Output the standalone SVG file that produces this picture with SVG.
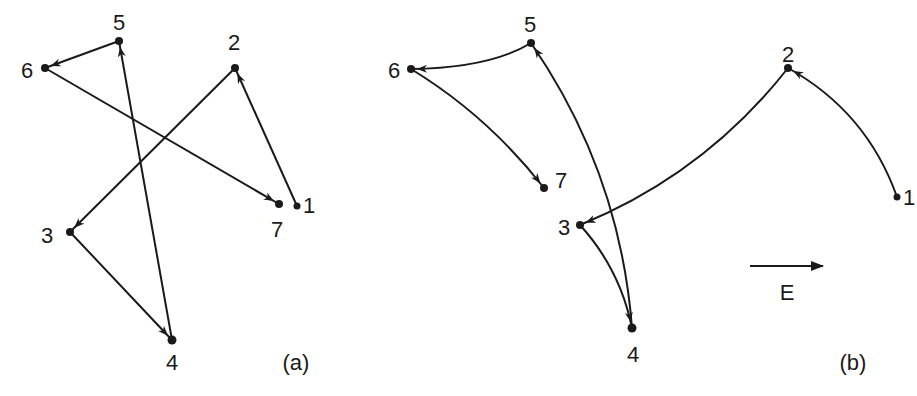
<svg xmlns="http://www.w3.org/2000/svg" width="917" height="396" viewBox="0 0 917 396">
<style>
.e{fill:none;stroke:#1a1a1a;stroke-width:2;marker-end:url(#ah)}
.d{fill:#1a1a1a}
text{font-family:"Liberation Sans",Arial,sans-serif;font-size:22px;fill:#1a1a1a;text-anchor:middle}
</style>
<defs>
<marker id="ah" markerUnits="userSpaceOnUse" markerWidth="20" markerHeight="10" refX="16" refY="4" orient="auto">
<path d="M0,0 L10,4 L0,8 L3,4 z" fill="#1a1a1a"/>
</marker>
<marker id="ahE" markerUnits="userSpaceOnUse" markerWidth="14" markerHeight="10" refX="12" refY="5" orient="auto">
<path d="M0,0 L13,5 L0,10 z" fill="#1a1a1a"/>
</marker>
</defs>
<rect width="917" height="396" fill="#fff"/>
<g id="connectors">
<path class="e" d="M119,41 L45,68"/>
<path class="e" d="M45,68 L279,204"/>
<path class="e" d="M297,206 L235,68"/>
<path class="e" d="M235,68 L70,232"/>
<path class="e" d="M70,232 L172,340"/>
<path class="e" d="M172,340 L119,41"/>
<path class="e" d="M531,43 Q490,68 411,69"/>
<path class="e" d="M411,69 Q488,116 544,188"/>
<path class="e" d="M632,328 Q620,172 531,43"/>
<path class="e" d="M580,225 Q620,269 632,328"/>
<path class="e" d="M788,68 Q705,174 580,225"/>
<path class="e" d="M897,197 Q867,112 788,68"/>
<path d="M750,266 L823,266" fill="none" stroke="#1a1a1a" stroke-width="2" marker-end="url(#ahE)"/>
</g>
<g id="a-n5"><circle class="d" cx="119" cy="41" r="4"/><text x="119" y="30">5</text></g>
<g id="a-n6"><circle class="d" cx="45" cy="68" r="4"/><text x="27" y="78">6</text></g>
<g id="a-n2"><circle class="d" cx="235" cy="68" r="4"/><text x="234" y="50">2</text></g>
<g id="a-n7"><circle class="d" cx="279" cy="204" r="4"/><text x="277" y="237">7</text></g>
<g id="a-n1"><circle class="d" cx="297" cy="206" r="3.5"/><text x="309" y="213">1</text></g>
<g id="a-n3"><circle class="d" cx="70" cy="232" r="4"/><text x="47" y="243">3</text></g>
<g id="a-n4"><circle class="d" cx="172" cy="340" r="4.5"/><text x="172" y="370">4</text></g>
<text x="296" y="370">(a)</text>
<g id="b-n5"><circle class="d" cx="531" cy="43" r="4"/><text x="530" y="32">5</text></g>
<g id="b-n6"><circle class="d" cx="411" cy="69" r="4"/><text x="394" y="78">6</text></g>
<g id="b-n7"><circle class="d" cx="544" cy="188" r="4"/><text x="561" y="188">7</text></g>
<g id="b-n3"><circle class="d" cx="580" cy="225" r="4"/><text x="564" y="235">3</text></g>
<g id="b-n4"><circle class="d" cx="632" cy="328" r="4.5"/><text x="633" y="362">4</text></g>
<g id="b-n2"><circle class="d" cx="788" cy="68" r="4"/><text x="788" y="62">2</text></g>
<g id="b-n1"><circle class="d" cx="897" cy="197" r="3.5"/><text x="903" y="205" style="text-anchor:start">1</text></g>
<g id="field"><text x="787" y="300">E</text></g>
<text x="853" y="370">(b)</text>
</svg>
